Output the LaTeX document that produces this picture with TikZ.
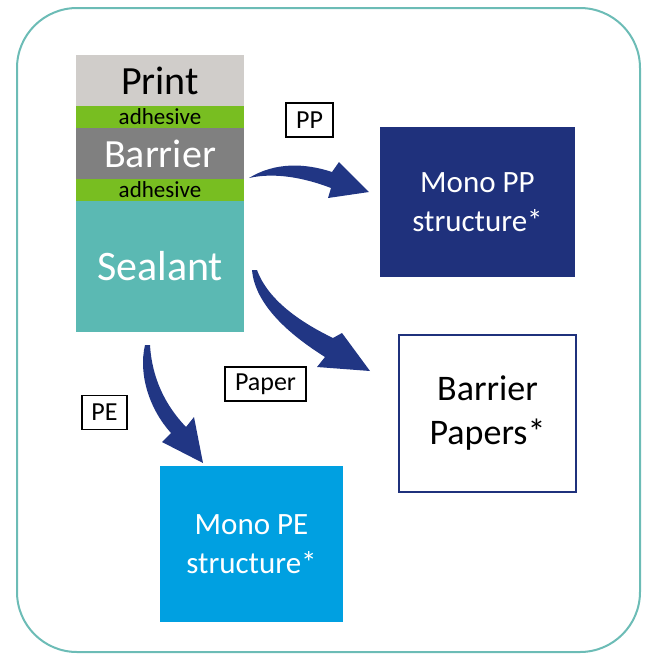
\documentclass[tikz,border=0pt]{standalone}
\usepackage{fontspec}
\setmainfont{Carlito}
\usetikzlibrary{positioning}

\definecolor{frameteal}{HTML}{6CBCB6}
\definecolor{printgray}{HTML}{D0CDCA}
\definecolor{adhgreen}{HTML}{78BE21}
\definecolor{barrgray}{HTML}{808080}
\definecolor{sealteal}{HTML}{5BB9B3}
\definecolor{navy}{HTML}{1F317C}
\definecolor{arrownavy}{HTML}{213684}
\definecolor{peblue}{HTML}{00A0E1}

\newcommand{\fs}[1]{\fontsize{#1}{#1}\selectfont}

\begin{document}
\begin{tikzpicture}[x=1pt,y=-1pt,
    layer/.style={rectangle,minimum width=168pt,inner sep=0pt,outer sep=0pt},
    target/.style={rectangle,inner sep=0pt,align=center},
    tag/.style={rectangle,draw=black,line width=1.3pt,inner sep=0pt,minimum height=34pt,font=\fs{26}},
    bigarrow/.style={fill=arrownavy,draw=none}]

    \useasboundingbox (0,0) rectangle (648,657);
    \draw[frameteal,line width=2pt,rounded corners=60pt] (17,8) rectangle (640,652);

    % layered film
    \node[layer,fill=printgray,minimum height=51pt,font=\fs{40}]  (print) at (160,80.5) {Print};
    \node[layer,fill=adhgreen,minimum height=22pt,font=\fs{23}]  (adh1) [below=0pt of print] {adhesive};
    \node[layer,fill=barrgray,minimum height=51pt,font=\fs{40},text=white]  (barrier) [below=0pt of adh1] {Barrier};
    \node[layer,fill=adhgreen,minimum height=22pt,font=\fs{23}]  (adh2) [below=0pt of barrier] {adhesive};
    \node[layer,fill=sealteal,minimum height=131pt,font=\fs{42},text=white]  (sealant) [below=0pt of adh2] {Sealant};

    % targets
    \node[target,fill=navy,text=white,minimum width=195pt,minimum height=150pt,font={\fontsize{31}{39}\selectfont}]  (monopp) at (477.5,202) {Mono PP\\structure*};
    \node[target,draw=navy,line width=1.5pt,minimum width=177pt,minimum height=157pt,font={\fontsize{36}{44}\selectfont}]  (papers) at (487.5,413.5) {Barrier\\Papers*};
    \node[target,fill=peblue,text=white,minimum width=183pt,minimum height=156pt,font={\fontsize{31}{39}\selectfont}]  (monope) at (251.5,544) {Mono PE\\structure*};

    % labels
    \node[tag,minimum width=47pt]  (pp) at (309.5,120) {PP};
    \node[tag,minimum width=81pt]  (paper) at (265.5,384) {Paper};
    \node[tag,minimum width=45pt]  (pe) at (104.5,412.5) {PE};

    % arrows
    \coordinate (ppS) at (249,178);
    \coordinate (ppT) at (369,192);
    \fill[bigarrow] (ppS) .. controls (275,162) and (305,163) .. (332,172) -- (339,162) -- (ppT) -- (328,198)
        -- (331,188) .. controls (305,178) and (275,172) .. (ppS) -- cycle;

    \coordinate (paS) at (254,270);
    \coordinate (paT) at (370,371);
    \fill[bigarrow] (paS) ++(-2,0) .. controls (255,305) and (290,335) .. (325,357) -- (317,367) -- (paT) -- (342,333)
        -- (333,338) .. controls (300,322) and (268,300) .. (257,270) -- cycle;

    \coordinate (peS) at (147.5,345);
    \coordinate (peT) at (203,463);
    \fill[bigarrow] (peS) ++(-2.5,0) .. controls (138,375) and (150,410) .. (171,433) -- (162,442) -- (peT) -- (194,417)
        -- (186,427) .. controls (165,405) and (152,378) .. (150,345) -- cycle;
\end{tikzpicture}
\end{document}
